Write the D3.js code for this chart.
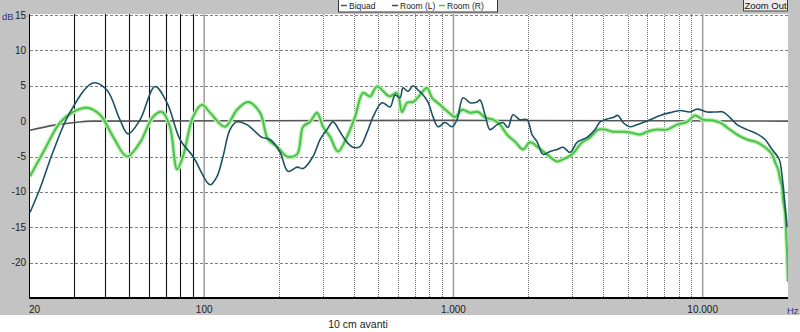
<!DOCTYPE html>
<html>
<head>
<meta charset="utf-8">
<script src="https://cdn.jsdelivr.net/npm/d3@7"></script>
<style>
  html, body { margin: 0; padding: 0; background: #fff; }
  svg { display: block; font-family: "Liberation Sans", Arial, sans-serif; }
</style>
</head>
<body>
<svg id="chart" width="800" height="332"></svg>
<script>
// frequency response, Hz / dB
const biquadHz = [20, 24.7, 30.9, 35.8, 22000];
const biquadDb = [-1.3, -0.6, -0.15, 0, 0];

const roomLHz = [20, 21.9, 24.7, 28.9, 35.8, 40.7, 45.9, 49.5, 55.3, 63.5, 70.9, 80, 90.2, 105.5, 112.6, 119, 126.9, 135.4, 148.5, 157, 170.6, 183.7, 201.5, 216.9, 235.8, 249.3, 273.4, 291.6, 311.1, 328.8, 350.7, 374.2, 395.5, 421.9, 450.1, 475.8, 517, 556.7, 583, 610.6, 627.8, 657.5, 688.6, 721.1, 755.1, 790.9, 828.3, 867.4, 925.4, 987.2, 1034, 1093, 1166, 1244, 1279, 1339, 1402, 1496, 1581, 1655, 1734, 1850, 1974, 2067, 2165, 2289, 2442, 2605, 2754, 2938, 3133, 3438, 3701, 3876, 4134, 4370, 4577, 4794, 5112, 5456, 5766, 6152, 6748, 7401, 8118, 8904, 9500, 10410, 11420, 12070, 12880, 13740, 15070, 16530, 17800, 18990, 20070, 20450, 21010, 21410, 21810];
const roomLDb = [-12.9, -9.6, -4.4, 1.2, 5.4, 4.4, 0.2, -1.8, 0.2, 4.9, 2.6, -2.6, -5, -9.0, -7.8, -5, -1.2, -0.1, -0.5, -1.2, -2.3, -2.6, -4.4, -7.1, -6.5, -6.7, -5, -2.6, -1.2, -0.1, -1.5, -3, -3.7, -3.6, -1.6, 0.6, 2.6, 2.0, 3.7, 3.3, 4.7, 4.2, 5.0, 4.4, 3.7, 2.7, 0.6, -0.8, -0.2, -0.8, 0.2, 3.3, 2.6, 2.7, 3.0, 0.9, -1.2, -0.5, -0.2, -0.9, 0.9, 0.2, 0.2, -1.9, -2.9, -4.7, -4.3, -4.0, -3.7, -4.4, -3.0, -2.3, -1.2, -0.1, 0.3, 0.5, 0.8, -0.2, -0.8, -0.5, -0.2, 0.2, 0.8, 1.2, 1.5, 1.3, 1.7, 1.3, 1.3, 1.3, 0.5, -0.5, -1.2, -1.8, -2.6, -4.0, -5.1, -5.8, -9.0, -12.0, -15.0];

const roomRHz = [20, 22.6, 26.4, 29.8, 33.9, 38.2, 43.1, 49, 55.3, 62.3, 67.7, 72.9, 77.8, 82.2, 90.2, 98, 105.5, 121.2, 135.4, 149.9, 167.5, 180.3, 196, 215, 235.8, 249.3, 265.9, 283.7, 299.8, 319.8, 344.3, 374.2, 403, 433.8, 462.8, 493.7, 541.5, 556.7, 593.9, 622, 651.4, 688.6, 734.5, 783.6, 820.7, 883.6, 951.4, 1015, 1083, 1166, 1256, 1339, 1442, 1538, 1640, 1766, 1901, 2030, 2185, 2375, 2605, 2754, 2993, 3282, 3534, 3805, 4058, 4370, 4794, 5112, 5609, 5983, 6564, 7199, 7897, 8661, 9325, 10030, 11010, 11740, 12530, 13740, 15070, 16530, 17800, 18990, 19520, 20070, 20450, 20820, 21010, 21410, 21610, 21810, 22000];
const roomRDb = [-7.8, -4.4, -0.2, 1.3, 1.9, 0.9, -2.2, -5, -3, 0.6, 1.3, -0.8, -6.8, -5, 0.6, 2.3, 1.2, -0.8, 1.6, 2.7, 1.2, -2.6, -3.6, -5, -4.7, -0.8, -0.1, 1.2, -0.8, -2.2, -4.3, -2.2, 0.6, 4.0, 3.5, 4.9, 3.7, 3.5, 4.0, 1.3, 2.6, 2.7, 3.7, 4.7, 3.3, 2.3, 1.3, 0.6, 1.6, 1.2, 1.3, 0.5, 0.2, -0.5, -1.9, -2.9, -4.0, -3.0, -3.7, -4.7, -5.7, -5.4, -4.7, -3.0, -2.3, -1.2, -1.2, -1.5, -1.5, -1.6, -1.9, -1.5, -1.2, -1.2, -0.5, -0.1, 0.8, 0.2, 0.1, -0.2, -0.9, -1.9, -2.6, -3.0, -3.7, -4.7, -5.8, -6.8, -8.2, -9.2, -11, -12.9, -15.3, -18.5, -22.7];

const markerHz = [30, 40, 50, 60, 70, 80, 90];
const decadeHz = [100, 1000, 10000];
const minorHz = [200, 300, 400, 500, 600, 700, 800, 900, 2000, 3000, 4000, 5000, 6000, 7000, 8000, 9000];
const dbTicks = [15, 10, 5, 0, -5, -10, -15, -20];
const hzTicks = [20, 100, 1000, 10000];
const hzLabels = ["20", "100", "1.000", "10.000"];

const svg = d3.select("#chart");
const plot = { left: 30, right: 788, top: 15, bottom: 298 };

const x = d3.scaleLog().domain([20, 22000]).range([plot.left, plot.right]);
const y = d3.scaleLinear().domain([-25, 15]).range([plot.bottom, plot.top]);

// grey frame + white plot
svg.append("rect").attr("x", 0).attr("y", 0).attr("width", 800).attr("height", 315).attr("fill", "#c3c3c3");
svg.append("rect").attr("x", plot.left - 1).attr("y", plot.top - 1)
  .attr("width", plot.right - plot.left + 1).attr("height", plot.bottom - plot.top + 1).attr("fill", "#fff");

svg.append("defs").append("clipPath").attr("id", "clip")
  .append("rect").attr("x", plot.left).attr("y", plot.top - 1)
  .attr("width", plot.right - plot.left).attr("height", plot.bottom - plot.top + 1);

const grid = svg.append("g");
grid.selectAll(".hgrid").data(dbTicks.filter(d => d !== 0)).join("line")
  .attr("x1", plot.left).attr("x2", plot.right)
  .attr("y1", d => Math.round(y(d)) + 0.5).attr("y2", d => Math.round(y(d)) + 0.5)
  .attr("stroke", "#808080").attr("stroke-dasharray", "3,2");
grid.selectAll(".minor").data(minorHz).join("line")
  .attr("x1", d => Math.round(x(d)) + 0.5).attr("x2", d => Math.round(x(d)) + 0.5)
  .attr("y1", plot.top - 1).attr("y2", plot.bottom)
  .attr("stroke", "#6e6e6e").attr("stroke-dasharray", "1,1");
grid.selectAll(".decade").data(decadeHz).join("line")
  .attr("x1", d => x(d)).attr("x2", d => x(d))
  .attr("y1", plot.top - 1).attr("y2", plot.bottom)
  .attr("stroke", "#a0a0a0").attr("stroke-width", 1.6);
grid.selectAll(".marker").data(markerHz).join("line")
  .attr("x1", d => Math.round(x(d)) + 0.5).attr("x2", d => Math.round(x(d)) + 0.5)
  .attr("y1", plot.top - 1).attr("y2", plot.bottom)
  .attr("stroke", "#111").attr("stroke-width", 1.1);

const line = d3.line()
  .x(d => x(d[0]))
  .y(d => y(d[1]))
  .curve(d3.curveCatmullRom.alpha(0.5));

const zip = (a, b) => a.map((v, i) => [v, b[i]]);
const curves = svg.append("g").attr("clip-path", "url(#clip)");

curves.append("path").datum(zip(biquadHz, biquadDb))
  .attr("d", line).attr("fill", "none").attr("stroke", "#555").attr("stroke-width", 1.6);
curves.append("path").datum(zip(roomRHz, roomRDb))
  .attr("d", line).attr("fill", "none").attr("stroke", "#bdeeb6").attr("stroke-width", 4.5);
curves.append("path").datum(zip(roomRHz, roomRDb))
  .attr("d", line).attr("fill", "none").attr("stroke", "#4cc24a").attr("stroke-width", 2);
curves.append("path").datum(zip(roomLHz, roomLDb))
  .attr("d", line).attr("fill", "none").attr("stroke", "#1c5263").attr("stroke-width", 1.6);

// axes lines
svg.append("line").attr("x1", plot.left - 0.5).attr("x2", plot.left - 0.5)
  .attr("y1", plot.top - 1).attr("y2", plot.bottom).attr("stroke", "#000");
svg.append("line").attr("x1", plot.left - 1).attr("x2", plot.right)
  .attr("y1", plot.bottom).attr("y2", plot.bottom).attr("stroke", "#000").attr("stroke-width", 2);

// y labels
svg.append("g").selectAll("text").data(dbTicks).join("text")
  .attr("x", 26).attr("y", d => y(d) + 3.5)
  .attr("text-anchor", "end").attr("font-size", 10).attr("fill", "#222")
  .text(d => d);
svg.append("text").attr("x", 2).attr("y", 20).attr("font-size", 9.5).attr("fill", "#34348c").text("dB");

// x labels
svg.append("g").selectAll("text").data(hzTicks).join("text")
  .attr("x", (d, i) => i === 0 ? x(d) - 1 : x(d))
  .attr("y", 313)
  .attr("text-anchor", (d, i) => i === 0 ? "start" : "middle")
  .attr("font-size", 10).attr("fill", "#222")
  .text((d, i) => hzLabels[i]);
svg.append("text").attr("x", 787).attr("y", 314).attr("font-size", 9.5).attr("fill", "#34348c").text("Hz");
svg.append("text").attr("x", 358).attr("y", 328).attr("text-anchor", "middle")
  .attr("font-size", 10.5).attr("fill", "#222").text("10 cm avanti");

// legend
const legend = svg.append("g");
legend.append("rect").attr("x", 338.5).attr("y", -1).attr("width", 159).attr("height", 13)
  .attr("fill", "#fff").attr("stroke", "#333");
const legendItems = [
  { name: "Biquad", color: "#555", lx: 341 },
  { name: "Room (L)", color: "#1c5263", lx: 392 },
  { name: "Room (R)", color: "#4cc24a", lx: 439 }
];
legend.selectAll(".li").data(legendItems).join("line")
  .attr("x1", d => d.lx).attr("x2", d => d.lx + 6).attr("y1", 5.5).attr("y2", 5.5)
  .attr("stroke", d => d.color).attr("stroke-width", 1.5);
legend.selectAll(".lt").data(legendItems).join("text")
  .attr("x", d => d.lx + 8).attr("y", 9).attr("font-size", 8.5).attr("fill", "#222")
  .text(d => d.name);

// zoom out button
svg.append("rect").attr("x", 743.5).attr("y", -1).attr("width", 44).attr("height", 12)
  .attr("fill", "#ececec").attr("stroke", "#444");
svg.append("text").attr("x", 765.5).attr("y", 9).attr("text-anchor", "middle")
  .attr("font-size", 9.5).attr("fill", "#111").text("Zoom Out");
</script>
</body>
</html>
